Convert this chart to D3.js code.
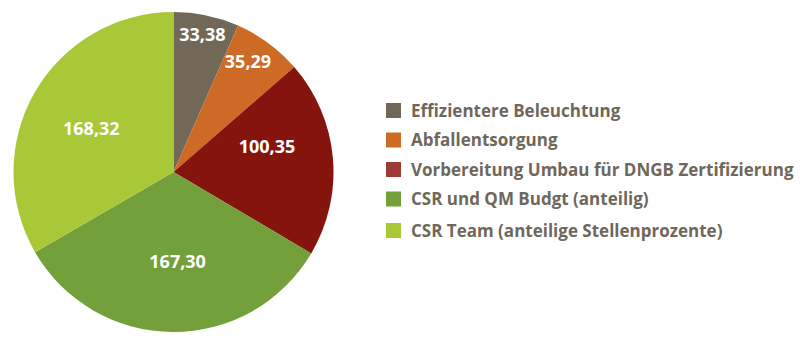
<!DOCTYPE html>
<html>
<head>
<meta charset="utf-8">
<script src="https://cdn.jsdelivr.net/npm/d3@7"></script>
<style>
  body { margin: 0; background: #fff; }
  svg { display: block; }
</style>
</head>
<body>
<div id="chart-region"></div>
<script>
const WIDTH = 800;
const HEIGHT = 339;

// data
const categories = [
    "Effizientere Beleuchtung",
    "Abfallentsorgung",
    "Vorbereitung Umbau für DNGB Zertifizierung",
    "CSR und QM Budgt (anteilig)",
    "CSR Team (anteilige Stellenprozente)"
];
const values = [33.38, 35.29, 100.35, 167.30, 168.32];
const valueLabels = ["33,38", "35,29", "100,35", "167,30", "168,32"];

const pieColors = ["#716858", "#cd6a25", "#85140e", "#74a03b", "#a8c838"];
const legendColors = ["#716858", "#cd6a25", "#9c3a35", "#74a03b", "#a8c838"];
// where each label sits, as fraction of radius, and angle nudge
const labelRadius = [0.875, 0.83, 0.605, 0.563, 0.58];
const labelShift = [0, -0.04, -0.17, -0.05, -0.04];

const CX = 173.5, CY = 172, R = 160;

const chart = d3.select("#chart-region").append("svg")
    .attr("width", WIDTH)
    .attr("height", HEIGHT);

const data = categories.map((c, i) => ({name: c, value: values[i], label: valueLabels[i], idx: i}));

const pie = d3.pie().sort(null).value(d => d.value);
const arcs = pie(data);
const arc = d3.arc().innerRadius(0).outerRadius(R);

function labelPos(d) {
    const a = (d.startAngle + d.endAngle) / 2 + labelShift[d.index];
    const r = R * labelRadius[d.index];
    return [CX + Math.sin(a) * r, CY - Math.cos(a) * r];
}

const slices = chart.append("g").attr("transform", `translate(${CX}, ${CY})`);
slices.selectAll("path")
    .data(arcs)
    .join("path")
    .attr("d", arc)
    .attr("fill", d => pieColors[d.index]);

// labels
const labels = chart.append("g");
labels.selectAll("text")
    .data(arcs)
    .join("text")
    .attr("text-anchor", "middle")
    .attr("font-family", "'Open Sans', sans-serif")
    .attr("font-weight", "bold")
    .attr("font-size", "18px")
    .attr("fill", "#ffffff")
    .attr("x", d => labelPos(d)[0])
    .attr("y", d => labelPos(d)[1] + 6)
    .text(d => d.data.label);

// legend
const rowY = d3.scalePoint().domain(categories).range([110.5, 228.5]);
const legend = chart.append("g");
const rows = legend.selectAll("g")
    .data(data)
    .join("g")
    .attr("transform", d => `translate(386, ${rowY(d.name) + (d.idx === 4 ? 2 : 0)})`);

rows.append("rect")
    .attr("x", 0)
    .attr("y", -7.5)
    .attr("width", 15)
    .attr("height", 15)
    .attr("fill", d => legendColors[d.idx]);

rows.append("text")
    .attr("x", 25)
    .attr("y", 6)
    .attr("font-family", "'Open Sans', sans-serif")
    .attr("font-weight", "bold")
    .attr("font-size", "17px")
    .attr("fill", "#6f675b")
    .text(d => d.name);
</script>
</body>
</html>
